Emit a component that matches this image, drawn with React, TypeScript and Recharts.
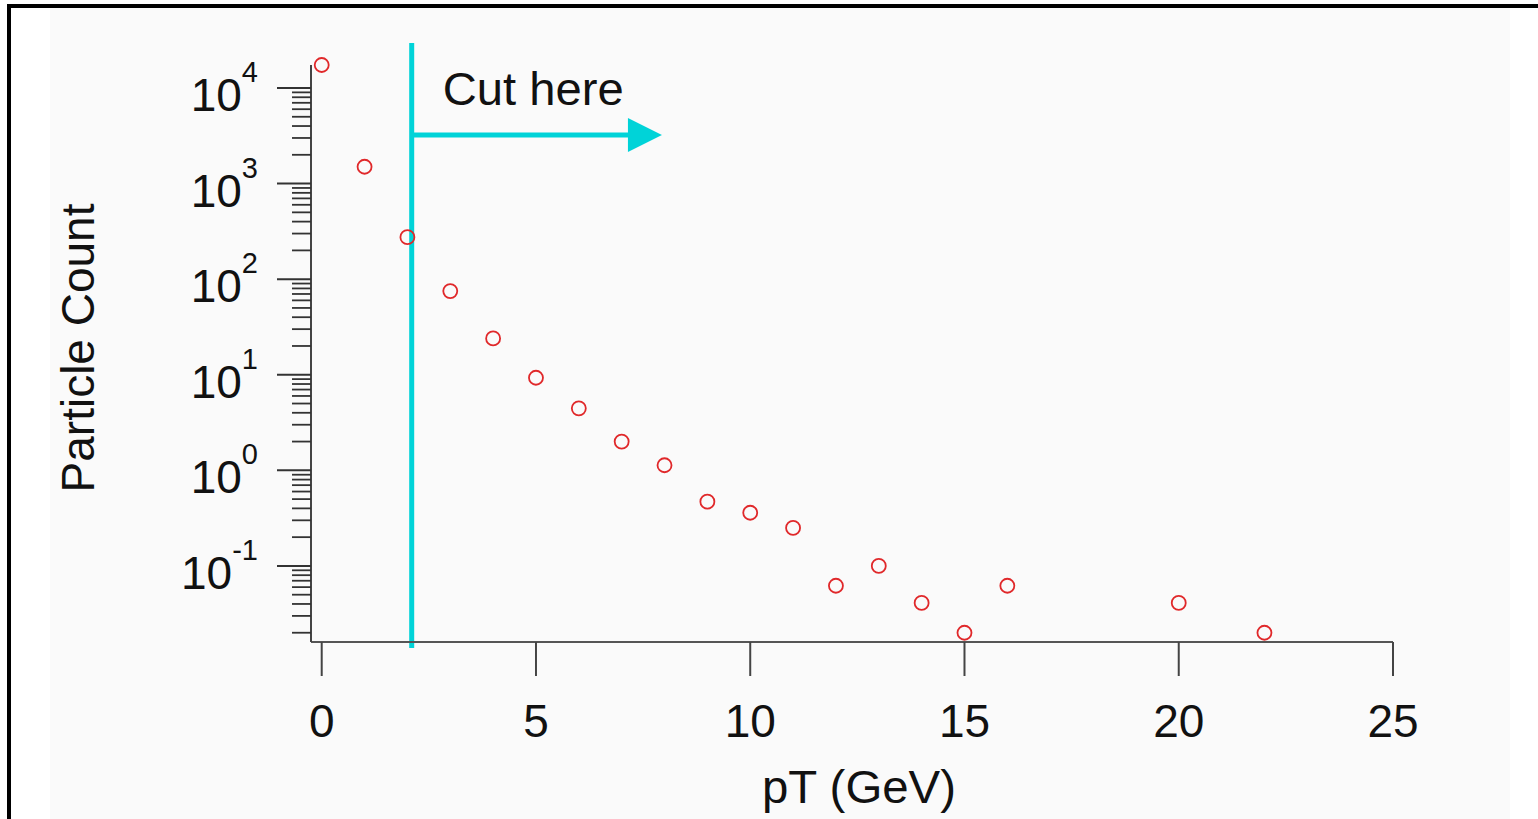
import React from 'react';
import { ScatterChart, Scatter, XAxis, YAxis, ReferenceLine, Label } from 'recharts';

// pT bins (GeV) and particle counts
const PT = [0, 1, 2, 3, 4, 5, 6, 7, 8, 9, 10, 11, 12, 13, 14, 15, 16, 20, 22];
const COUNTS = [17400, 1500, 275, 75, 24, 9.3, 4.45, 2.0, 1.13, 0.47, 0.36, 0.25, 0.062, 0.1, 0.041, 0.02, 0.062, 0.041, 0.02];

const X_TICKS = [0, 5, 10, 15, 20, 25];
const Y_DECADES = [0.01, 0.1, 1, 10, 100, 1000, 10000];
const MINOR_STEPS = [2, 3, 4, 5, 6, 7, 8, 9];

// cut annotation (in data units)
const CUT_X = 2.1;
const ARROW_END_X = 7.94;
const ARROW_Y = 3220;

const FONT = '"Liberation Sans", Arial, Helvetica, sans-serif';
const CYAN = '#00d3d8';
const POINT_RED = '#e0282a';

const data = PT.map((pt, i) => ({ pt, count: COUNTS[i] }));

const yTicks = Y_DECADES.flatMap((d) => [d, ...MINOR_STEPS.map((m) => d * m)]).filter(
    (v) => v >= 0.016 && v <= 17400
);

const isMajor = (v: number) => Math.abs(Math.log10(v) - Math.round(Math.log10(v))) < 1e-6;

function YTick(props: any) {
    const { x, y, payload } = props;
    const v = payload.value;
    if (isMajor(v)) {
        const exp = Math.round(Math.log10(v));
        return (
            <g>
                <line x1={x - 34} x2={x} y1={y} y2={y} stroke="#333" strokeWidth={2} />
                <text x={x - 53} y={y + 23} textAnchor="end" fontSize={46} fontFamily={FONT} fill="#111">
                    <tspan>10</tspan>
                    <tspan dy={-29} fontSize={29}>{String(exp)}</tspan>
                </text>
            </g>
        );
    }
    return <line x1={x - 19} x2={x} y1={y} y2={y} stroke="#333" strokeWidth={1.8} />;
}

function XTick(props: any) {
    const { x, y, payload } = props;
    return (
        <text x={x} y={y + 61} textAnchor="middle" fontSize={46} fontFamily={FONT} fill="#111">
            {payload.value}
        </text>
    );
}

function CutLine(props: any) {
    const { x1, y1, y2 } = props;
    const top = Math.min(y1, y2);
    const bottom = Math.max(y1, y2);
    return <line x1={x1} x2={x1} y1={top - 22} y2={bottom + 6} stroke={CYAN} strokeWidth={5} />;
}

function CutArrow(props: any) {
    const { x1, x2, y1 } = props;
    const head = 34;
    return (
        <g>
            <line x1={x1} x2={x2 - head + 2} y1={y1} y2={y1} stroke={CYAN} strokeWidth={5} />
            <polygon points={`${x2 - head},${y1 - 17} ${x2},${y1} ${x2 - head},${y1 + 17}`} fill={CYAN} />
            <text
                x={x1 + 31}
                y={y1 - 30}
                fontSize={46}
                fontFamily={FONT}
                fill="#111"
                textLength={181}
                lengthAdjust="spacingAndGlyphs"
            >
                Cut here
            </text>
        </g>
    );
}

export default function App() {
    return (
        <div style={{ position: 'absolute', left: 0, top: 0, width: 1538, height: 819, background: '#fff', overflow: 'hidden' }}>
            <div style={{ position: 'absolute', left: 50, top: 8, width: 1460, height: 811, background: '#fafafa' }} />
            <div style={{ position: 'absolute', left: 7, top: 4, width: 1531, height: 4, background: '#000' }} />
            <div style={{ position: 'absolute', left: 7, top: 4, width: 4, height: 815, background: '#000' }} />
            <div style={{ position: 'absolute', left: 0, top: 0 }}>
                <ScatterChart width={1538} height={819} margin={{ top: 65, right: 145, bottom: 77, left: 0 }}>
                    <XAxis
                        type="number"
                        dataKey="pt"
                        domain={[-0.25, 25]}
                        ticks={X_TICKS}
                        interval={0}
                        height={100}
                        tickSize={34}
                        tickMargin={0}
                        tick={<XTick />}
                        tickLine={{ stroke: '#444', strokeWidth: 2 }}
                        axisLine={{ stroke: '#555', strokeWidth: 2 }}
                    >
                        <Label
                            content={(p: any) => {
                                const vb = p.viewBox;
                                return (
                                    <text
                                        x={vb.x + vb.width / 2 + 7}
                                        y={vb.y + 161}
                                        textAnchor="middle"
                                        fontSize={46}
                                        fontFamily={FONT}
                                        fill="#111"
                                        textLength={194}
                                        lengthAdjust="spacingAndGlyphs"
                                    >
                                        pT (GeV)
                                    </text>
                                );
                            }}
                        />
                    </XAxis>
                    <YAxis
                        type="number"
                        dataKey="count"
                        scale="log"
                        domain={[0.016, 17400]}
                        ticks={yTicks}
                        interval={0}
                        width={311}
                        tickSize={0}
                        tickMargin={0}
                        tickLine={false}
                        tick={<YTick />}
                        axisLine={{ stroke: '#444', strokeWidth: 2 }}
                    >
                        <Label
                            content={() => (
                                <text x={94} y={348} transform="rotate(-90, 94, 348)" textAnchor="middle" fontSize={46} fontFamily={FONT} fill="#111">
                                    Particle Count
                                </text>
                            )}
                        />
                    </YAxis>
                    <ReferenceLine x={CUT_X} shape={<CutLine />} ifOverflow="visible" />
                    <ReferenceLine
                        segment={[
                            { x: CUT_X, y: ARROW_Y },
                            { x: ARROW_END_X, y: ARROW_Y },
                        ]}
                        shape={<CutArrow />}
                        ifOverflow="visible"
                    />
                    <Scatter
                        data={data}
                        isAnimationActive={false}
                        shape={(p: any) => (
                            <circle cx={p.cx} cy={p.cy} r={7} fill="none" stroke={POINT_RED} strokeWidth={1.8} />
                        )}
                    />
                </ScatterChart>
            </div>
        </div>
    );
}
